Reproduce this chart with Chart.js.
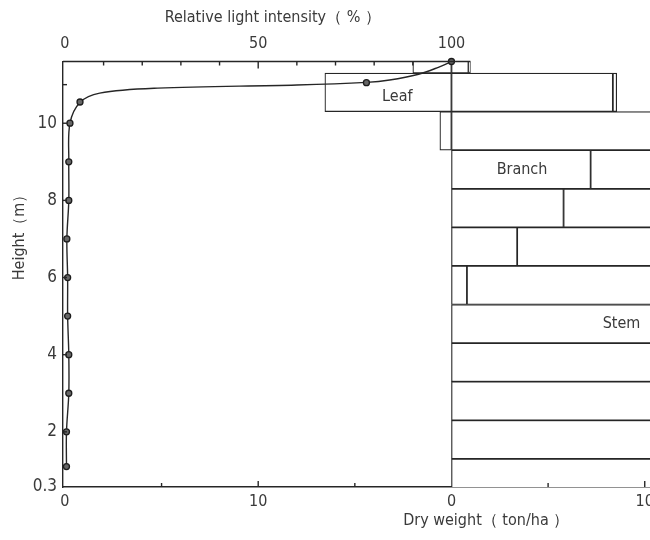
<!DOCTYPE html>
<html>
<head>
<meta charset="utf-8">
<script src="https://cdn.jsdelivr.net/npm/chart.js@4.4.1/dist/chart.umd.min.js"></script>
<style>
  html, body { margin: 0; padding: 0; background: #fff; }
  /* the figure is cropped on the right, so the canvas runs past the window */
  #frame { width: 650px; height: 540px; overflow: hidden; }
  #wrap { width: 720px; height: 540px; }
</style>
</head>
<body>
<div id="frame"><div id="wrap"><canvas id="chart"></canvas></div></div>
<script>
// 1 m layers (lower bound, m); the last one stops at the tree top
const strataBase   = [0.3, 1.3, 2.3, 3.3, 4.3, 5.3, 6.3, 7.3, 8.3, 9.3, 10.3, 11.3];
const leafWeight   = [0, 0, 0, 0, 0, 0, 0, 0, 0, 0.6, 6.55, 2.0];
const branchWeight = [0, 0, 0, 0, 0, 0.8, 3.4, 5.8, 7.2, 11.5, 8.35, 0.88];
const stemWeight   = [16, 15.5, 15, 14.5, 14, 13, 11, 9, 6, 3, 0.2, 0.1];

// relative light intensity measured in the stand
const lightHeight = [1.1, 2, 3, 4, 5, 6, 7, 8, 9, 10, 10.55, 11.05, 11.6];
const lightValue  = [0.4, 0.4, 1.0, 1.0, 0.7, 0.7, 0.5, 1.0, 1.0, 1.3, 3.9, 78, 100];
// smoothed curve through the crown
const curveLight  = [3.9, 9, 24, 60, 78, 84, 91.5, 96.6, 100];
const curveHeight = [10.54, 10.78, 10.91, 10.99, 11.06, 11.12, 11.27, 11.45, 11.6];

// axes
const dwTicks      = [-20, -15, -10, -5, 0, 5, 10];
const dwLabels     = ['0', '', '10', '', '0', '', '10'];
const lightTicks   = [0, 10, 20, 30, 40, 50, 60, 70, 80, 90, 100];
const lightLabels  = ['0', '', '', '', '', '50', '', '', '', '', '100'];
const heightTicks  = [2, 4, 6, 8, 10];
const heightMinor  = [11];
const groundLabel  = '0.3';

const ink = '#262626';
const textInk = '#3a3a3a';
const fontFamily = '"DejaVu Sans Condensed", "Liberation Sans Narrow", sans-serif';

// left panel: 20 ton/ha wide, which is also 0-100 % light
const dwMin = -20.1, dwMax = 13.62;
const lightMin = (dwMin + 20) * 5, lightMax = (dwMax + 20) * 5;
// the bottom layer is drawn short in the figure: ground line sits at 0.57 on the linear scale
const hMin = 0.57, hMax = 11.6;

const mid = strataBase.map(b => b + 0.5);
const boxes = (from, to) => mid
    .map((m, i) => ({ y: m, x: [from[i], to[i]] }))
    .filter(d => d.x[0] !== d.x[1]);

const zero = strataBase.map(() => 0);
const leafStart = leafWeight.map(v => -v);
const branchEnd = branchWeight.slice();
const stemEnd = branchWeight.map((b, i) => b + stemWeight[i]);

const barStyle = {
    type: 'bar',
    indexAxis: 'y',
    xAxisID: 'x',
    yAxisID: 'y',
    grouped: false,
    barPercentage: 1,
    categoryPercentage: 1,
    backgroundColor: '#ffffff',
    borderColor: ink,
    borderWidth: 1.2,
    borderSkipped: false,
    clip: 0,
    order: 2
};

const trace = lightHeight
    .map((h, i) => ({ x: lightValue[i], y: h }))
    .filter(p => p.y <= 10)
    .concat(curveLight.map((v, i) => ({ x: v, y: curveHeight[i] })));

const decor = {
    id: 'decor',
    afterDraw(chart) {
        const { ctx, chartArea: a, scales: { x, xTop, y } } = chart;
        const line = (x1, y1, x2, y2) => {
            ctx.beginPath(); ctx.moveTo(x1, y1); ctx.lineTo(x2, y2); ctx.stroke();
        };
        ctx.save();
        ctx.strokeStyle = ink;
        ctx.lineWidth = 1.4;

        // top frame over the light panel and the top layer
        const last = strataBase.length - 1;
        line(a.left, a.top, x.getPixelForValue(stemEnd[last]), a.top);

        // inward tick marks
        lightTicks.slice(1, -1).forEach(v => {
            const px = xTop.getPixelForValue(v);
            line(px, a.top, px, a.top + (v === 50 ? 7 : 4));
        });
        dwTicks.filter(v => v !== -20 && v !== 0).forEach(v => {
            const px = x.getPixelForValue(v);
            line(px, a.bottom, px, a.bottom - (Math.abs(v) === 10 ? 6 : 4));
        });
        heightTicks.concat(heightMinor).forEach(v => {
            const py = y.getPixelForValue(v);
            line(a.left, py, a.left + 4, py);
        });

        // axis titles
        ctx.fillStyle = textInk;
        ctx.font = '16px ' + fontFamily;
        ctx.textAlign = 'left';
        ctx.textBaseline = 'middle';
        ctx.fillText('Relative light intensity（ % ）', xTop.getPixelForValue(25.8), 18);
        ctx.fillText('Dry weight（ ton/ha ）', x.getPixelForValue(-2.5), 521);
        ctx.save();
        ctx.translate(20, y.getPixelForValue(5.93));
        ctx.rotate(-Math.PI / 2);
        ctx.fillText('Height（m）', 0, 0);
        ctx.restore();

        // organ labels
        ctx.textAlign = 'center';
        ctx.fillText('Leaf', x.getPixelForValue(-2.8), y.getPixelForValue(10.68));
        ctx.fillText('Branch', x.getPixelForValue(3.65), y.getPixelForValue(8.8));
        ctx.fillText('Stem', x.getPixelForValue(8.8), y.getPixelForValue(4.8));
        ctx.restore();
    }
};

new Chart(document.getElementById('chart'), {
    type: 'bar',
    data: {
        datasets: [
            { ...barStyle, label: 'Leaf', data: boxes(leafStart, zero) },
            { ...barStyle, label: 'Branch', data: boxes(zero, branchEnd) },
            { ...barStyle, label: 'Stem', data: boxes(branchEnd, stemEnd) },
            {
                type: 'line',
                label: 'Light curve',
                xAxisID: 'xTop',
                yAxisID: 'y',
                data: trace,
                borderColor: ink,
                borderWidth: 1.4,
                tension: 0.35,
                pointRadius: 0,
                order: 1
            },
            {
                type: 'line',
                label: 'Relative light intensity',
                xAxisID: 'xTop',
                yAxisID: 'y',
                data: lightHeight.map((h, i) => ({ x: lightValue[i], y: h })),
                showLine: false,
                pointRadius: 3,
                pointBackgroundColor: '#666666',
                pointBorderColor: '#1c1c1c',
                pointBorderWidth: 1.3,
                clip: false,
                order: 0
            }
        ]
    },
    options: {
        responsive: true,
        maintainAspectRatio: false,
        animation: false,
        layout: { padding: 0 },
        plugins: { legend: { display: false }, tooltip: { enabled: false } },
        scales: {
            x: {
                type: 'linear',
                position: 'bottom',
                offset: false,
                min: dwMin,
                max: dwMax,
                afterBuildTicks: s => { s.ticks = dwTicks.map(v => ({ value: v })); },
                afterFit: s => { s.height = 53; },
                ticks: {
                    autoSkip: false,
                    maxRotation: 0,
                    padding: 5,
                    color: textInk,
                    font: { family: fontFamily, size: 16 },
                    callback: v => dwLabels[dwTicks.indexOf(v)]
                },
                grid: { display: false, drawTicks: false, offset: false },
                border: { display: true, color: ink, width: 1.4 }
            },
            xTop: {
                type: 'linear',
                position: 'top',
                offset: false,
                min: lightMin,
                max: lightMax,
                afterBuildTicks: s => { s.ticks = lightTicks.map(v => ({ value: v })); },
                afterFit: s => { s.height = 61.5; },
                ticks: {
                    autoSkip: false,
                    maxRotation: 0,
                    padding: 8,
                    color: textInk,
                    font: { family: fontFamily, size: 16 },
                    callback: v => lightLabels[lightTicks.indexOf(v)]
                },
                grid: { display: false, drawTicks: false, offset: false },
                border: { display: false }
            },
            y: {
                type: 'linear',
                position: 'left',
                offset: false,
                min: hMin,
                max: hMax,
                afterBuildTicks: s => { s.ticks = [hMin].concat(heightTicks).map(v => ({ value: v })); },
                afterFit: s => { s.width = 63; },
                ticks: {
                    autoSkip: false,
                    padding: 6,
                    color: textInk,
                    font: { family: fontFamily, size: 17 },
                    callback: v => v === hMin ? groundLabel : String(v)
                },
                grid: { display: false, drawTicks: false, offset: false },
                border: { display: true, color: ink, width: 1.4 }
            }
        }
    },
    plugins: [decor]
});
</script>
</body>
</html>
